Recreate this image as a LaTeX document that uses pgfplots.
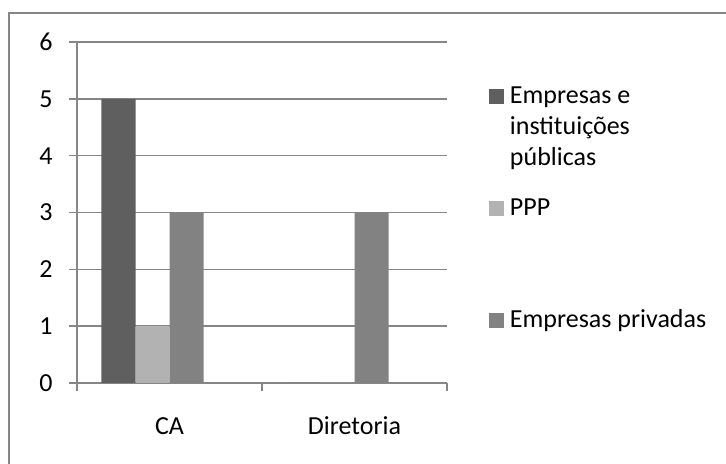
\documentclass[border=0pt]{standalone}
\usepackage{fontspec}
\setmainfont{Carlito}
\usepackage{pgfplots}
\pgfplotsset{compat=1.18}
\definecolor{gridgray}{HTML}{868686}
\definecolor{bardark}{HTML}{5F5F5F}
\definecolor{barlight}{HTML}{B2B2B2}
\definecolor{barmid}{HTML}{828282}
\begin{document}
\begin{tikzpicture}
\path[use as bounding box, clip] (0,0) rectangle (363pt,232pt);
\fill[white] (0,0) rectangle (363pt,232pt);
\draw[gridgray, line width=1pt] (4.5pt,-5pt) -- (4.5pt,225.5pt) -- (370pt,225.5pt);
\begin{axis}[
  at={(38.5pt,40.5pt)}, anchor=south west,
  scale only axis, width=185pt, height=170.5pt,
  xmin=0, xmax=2, ymin=0, ymax=6,
  xtick={0,1,2}, xticklabels={CA,Diretoria}, x tick label as interval,
  ytick={0,1,2,3,4,5,6},
  axis lines*=left,
  axis line style={gridgray, line width=0.75pt},
  ymajorgrids, grid style={gridgray, line width=0.75pt},
  tick align=outside, major tick length=4pt,
  tick style={gridgray, line width=0.75pt},
  font=\fontsize{13}{15.5}\selectfont,
  /pgf/number format/assume math mode=true,
  yticklabel style={anchor=east, inner sep=0pt, xshift=-8pt},
  xticklabel style={anchor=base, inner sep=0pt, yshift=-21.5pt},
  legend cell align=left,
  legend style={draw=none, fill=none, inner sep=0pt, outer sep=0pt,
    row sep=0pt, column sep=3pt,
    nodes={inner sep=0pt, text depth=},
    cells={anchor=base west},
    at={(1.1135,0.882)}, anchor=north west,
    font=\fontsize{13}{15.5}\selectfont},
  legend image code/.code={\fill[#1] (0pt,0pt) rectangle (7.5pt,7.5pt);},
]
\addplot[ybar, bar width=17pt, bar shift=-25.5pt, fill=bardark, draw=none]
  coordinates {(0.5,5) (1.5,0)};
\addlegendentry{\begin{tabular}[t]{@{}l@{}}Empresas e\\instituições\\públicas\end{tabular}}
\addplot[ybar, bar width=17pt, bar shift=-8.5pt, fill=barlight, draw=none]
  coordinates {(0.5,1) (1.5,0)};
\addlegendentry{\rule{0pt}{20.35pt}PPP\rule[-5pt]{0pt}{0pt}}
\addplot[ybar, bar width=17pt, bar shift=8.5pt, fill=barmid, draw=none]
  coordinates {(0.5,3) (1.5,3)};
\addlegendentry{\rule{0pt}{51pt}Empresas privadas}
\end{axis}
\end{tikzpicture}
\end{document}
